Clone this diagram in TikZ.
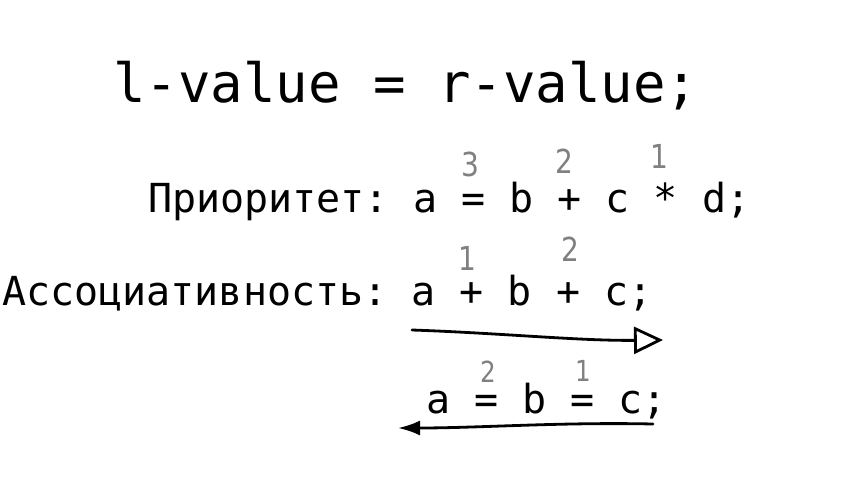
\documentclass[tikz,border=0pt]{standalone}
\usepackage{fontspec}
\setmonofont{DejaVu Sans Mono}
\newfontfamily\numfont[FakeStretch=0.85]{DejaVu Sans}
\usetikzlibrary{arrows.meta}
\definecolor{numgray}{RGB}{128,128,128}
\tikzset{
  codetext/.style={anchor=base west, inner sep=0pt, font=\ttfamily\fontsize{40}{40}\selectfont},
  titletext/.style={anchor=base west, inner sep=0pt, font=\ttfamily\fontsize{54}{54}\selectfont},
  prio/.style={inner sep=0pt, text=numgray, font=\numfont\fontsize{33}{33}\selectfont},
  smallprio/.style={prio, font=\numfont\fontsize{29}{29}\selectfont},
  hand/.style={line width=2.8pt, line cap=round, line join=round, black}
}
\begin{document}
\begin{tikzpicture}[x=1pt,y=-1pt]
\useasboundingbox (0,0) rectangle (853,499);
\node[titletext] (title) at (113,102) {l-value = r-value;};
\node[codetext] (prior) at (148,212) {Приоритет: a = b + c * d;};
\node[codetext] (assoc) at (2,305) {Ассоциативность: a + b + c;};
\node[codetext] (assign) at (426,413) {a = b = c;};
% priority numbers
\node[prio] (p3) at (470,164) {3};
\node[prio] (p2) at (564,161) {2};
\node[prio] (p1) at (659,156) {1};
\node[prio] (q1) at (467,258) {1};
\node[prio] (q2) at (570,249) {2};
\node[smallprio] (r2) at (488,372) {2};
\node[smallprio] (r1) at (583,371) {1};
% arrows
\coordinate (ls) at (412,330);
\coordinate (le) at (663,340);
\draw[hand, -{Triangle[open, length=29pt, width=27pt, line width=2.8pt]}] (ls) .. controls (500,333) and (580,341) .. (le);
\coordinate (rs) at (653,424);
\coordinate (re) at (398,428);
\draw[hand, -{Latex[length=22pt, width=15pt]}] (rs) .. controls (560,422) and (480,428) .. (re);
\end{tikzpicture}
\end{document}
